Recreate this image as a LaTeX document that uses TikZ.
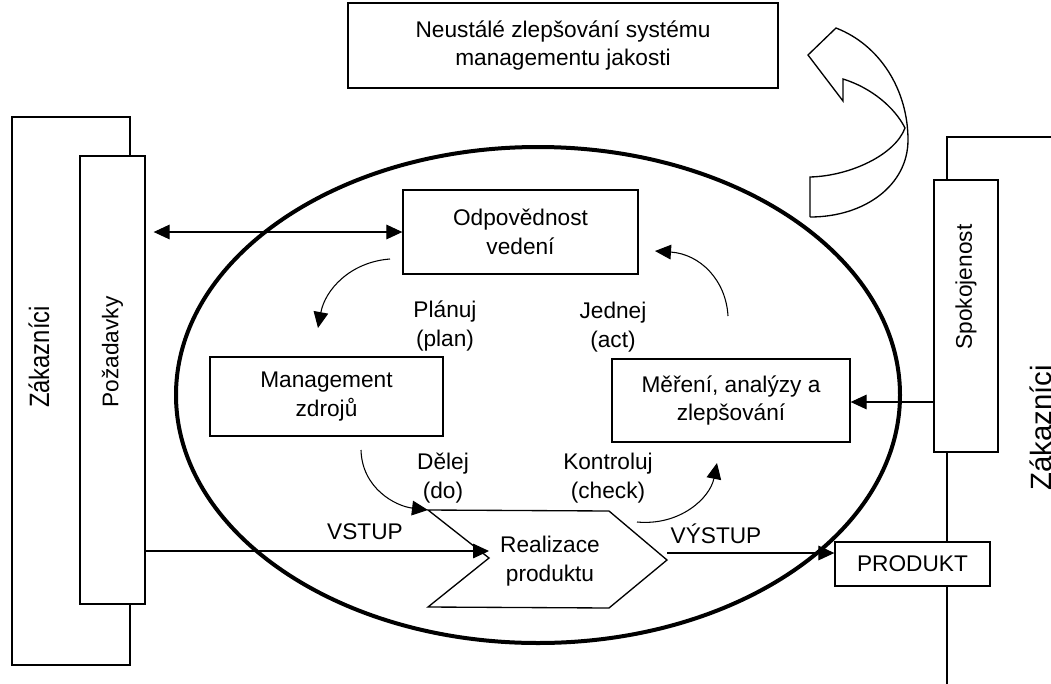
\documentclass[tikz,border=0pt]{standalone}
\usepackage{fontspec}
\setmainfont{Liberation Sans}
\usetikzlibrary{arrows.meta}
\begin{document}
\begin{tikzpicture}[x=0.75pt,y=-0.75pt,
    txt/.style={font=\fontsize{17}{21.5}\selectfont,align=center,inner sep=0pt},
    box/.style={txt,draw,line width=1pt,fill=white},
    arr/.style={-{Triangle[length=12pt,width=11pt]},line width=0.8pt},
    darr/.style={{Triangle[length=12pt,width=11pt]}-{Triangle[length=12pt,width=11pt]},line width=0.8pt},
  ]
  \useasboundingbox (0,0) rectangle (1051,683);
  % zakaznici
  \draw[line width=1pt] (12,117) rectangle (130,665);
  \draw[line width=1pt] (947,137) rectangle (1100,720);
  \node[txt,rotate=90] (zak1) at (39,357) {\scalebox{0.85}[1]{\fontsize{21}{25}\selectfont Zákazníci}};
  \node[txt,rotate=90] (zak2) at (1041,428) {\fontsize{22}{26}\selectfont Zákazníci};
  \node[box,rotate=90,minimum width=336pt,minimum height=48.75pt] (pozad) at (112.5,380) {};
  \node[txt,rotate=90] (pozadt) at (112.5,352) {Požadavky};
  \node[box,rotate=90,minimum width=204pt,minimum height=48pt] (spok) at (966,316) {};
  \node[txt,rotate=90] (spokt) at (966,287) {Spokojenost};
  % ellipse
  \draw[line width=3pt] (538,395) ellipse [x radius=362, y radius=248];
  % boxes
  \node[box,minimum width=322.5pt,minimum height=63.75pt] (neust) at (563,45.5) {Neustálé zlepšování systému\\managementu jakosti};
  \node[box,minimum width=176.25pt,minimum height=63pt] (odpov) at (520.5,232) {Odpovědnost\\vedení};
  \node[box,minimum width=174.75pt,minimum height=59.25pt] (mgmt) at (326.5,396.5) {Management\\zdrojů};
  \node[box,minimum width=178.5pt,minimum height=62.25pt] (mereni) at (731,400.5) {Měření, analýzy a\\zlepšování};
  \node[box,minimum width=116.25pt,minimum height=33pt] (produkt) at (912.5,564) {PRODUKT};
  % realizace
  \coordinate (vin) at (489,558);
  \coordinate (vout) at (667,560);
  \draw[line width=1pt,fill=white] (428,510) -- (609,511) -- (vout) -- (609,608) -- (428,607) -- (vin) -- cycle;
  \node[txt] (real) at (550,561) {Realizace\\produktu};
  % improvement arrow
  \draw[line width=1pt] (810,217) -- (810,177) .. controls (850,176) and (895,155) .. (905,128)
    .. controls (895,108) and (872,88) .. (843,79) -- (843,101) -- (808,55) -- (836,28)
    .. controls (880,45) and (908,90) .. (908,140) .. controls (908,185) and (865,217) .. (810,217);
  % connectors
  \draw[darr,shorten <=6pt] (odpov.west -| pozad.south) -- (odpov.west);
  \draw[arr] (pozad.south |- 0,551) -- (vin |- 0,551);
  \draw[arr] (vout |- 0,553) -- (produkt.west |- 0,553);
  \draw[arr] (spok.north |- 0,402) -- (mereni.east |- 0,402);
  \coordinate (c1s) at (390,259); \coordinate (c1e) at (318,328);
  \coordinate (c2s) at (361,450); \coordinate (c2e) at (428,510);
  \coordinate (c3s) at (637,522); \coordinate (c3e) at (717,463);
  \coordinate (c4s) at (728,316); \coordinate (c4e) at (655,251);
  \draw[arr] (c1s) .. controls (350,262) and (325,290) .. (c1e);
  \draw[arr] (c2s) .. controls (362,488) and (395,506) .. (c2e);
  \draw[arr] (c3s) .. controls (680,526) and (710,498) .. (c3e);
  \draw[arr] (c4s) .. controls (726,280) and (700,254) .. (c4e);
  % labels
  \node[txt] (plan) at (445,326) {Plánuj\\(plan)};
  \node[txt] (act) at (613,327) {Jednej\\(act)};
  \node[txt] (do) at (443,478) {Dělej\\(do)};
  \node[txt] (check) at (608,478) {Kontroluj\\(check)};
  \node[txt] (vstup) at (365,532) {VSTUP};
  \node[txt] (vystup) at (716,534) {VÝSTUP};
\end{tikzpicture}
\end{document}
